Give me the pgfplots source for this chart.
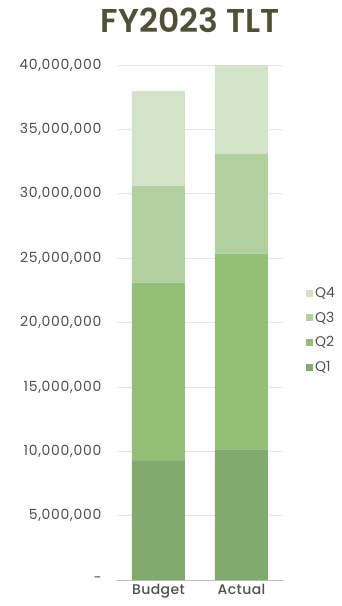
\documentclass[border=0pt]{standalone}
\usepackage{pgfplots}
\pgfplotsset{compat=1.18}
\usepackage{fontspec}
\setmainfont{Poppins}
\newfontfamily\titlefont{Poppins SemiBold}
\newfontfamily\tickfont[LetterSpace=5]{Poppins}
\newfontfamily\medfont[LetterSpace=3]{Poppins Medium}
\definecolor{qone}{HTML}{82A96E}
\definecolor{qtwo}{HTML}{93BF77}
\definecolor{qthree}{HTML}{B1D1A0}
\definecolor{qfour}{HTML}{D3E3C8}
\definecolor{titlec}{HTML}{4F5036}
\definecolor{tickc}{HTML}{505050}
\begin{document}
\begin{tikzpicture}[x=1pt,y=1pt]
\path[use as bounding box] (0,0) rectangle (342,606);
\node[font=\fontsize{33}{38}\titlefont, text=titlec, anchor=center] at (190,586) {FY2023 TLT};
\begin{axis}[
  at={(117pt,26pt)}, anchor=south west,
  scale only axis, width=166pt, height=515pt,
  ybar stacked, bar width=53pt,
  xmin=-0.5, xmax=1.5, ymin=0, ymax=40000000,
  scaled y ticks=false,
  xtick={0,1}, xticklabels={Budget,Actual},
  ytick={0,5000000,10000000,15000000,20000000,25000000,30000000,35000000,40000000},
  yticklabels={-,{5,000,000},{10,000,000},{15,000,000},{20,000,000},{25,000,000},{30,000,000},{35,000,000},{40,000,000}},
  /pgf/number format/assume math mode=true,
  yticklabel style={font=\fontsize{14}{16}\tickfont, text=tickc, xshift=-12pt},
  xticklabel style={font=\fontsize{14}{16}\medfont, text=tickc, yshift=-1pt},
  major tick length=0pt,
  axis x line*=bottom, axis y line*=left,
  x axis line style={draw=black!25, -},
  y axis line style={draw=none},
  ymajorgrids, grid style={draw=black!10, line width=0.6pt},
  legend style={at={(1,0.485)}, anchor=west, xshift=20pt, draw=none, fill=none,
    font=\fontsize{14}{16}\selectfont, text=tickc, row sep=9pt,
    legend cell align=left},
  reverse legend,
  legend image code/.code={\fill[#1] (0,-3.5pt) rectangle (7pt,3.5pt);},
]
\addplot[fill=qone, draw=none] coordinates {(0,9250000) (1,10150000)};
\addplot[fill=qtwo, draw=none] coordinates {(0,13850000) (1,15200000)};
\addplot[fill=qthree, draw=none] coordinates {(0,7500000) (1,7750000)};
\addplot[fill=qfour, draw=none] coordinates {(0,7400000) (1,6900000)};
\legend{Q1,Q2,Q3,Q4}
\end{axis}
\end{tikzpicture}
\end{document}
